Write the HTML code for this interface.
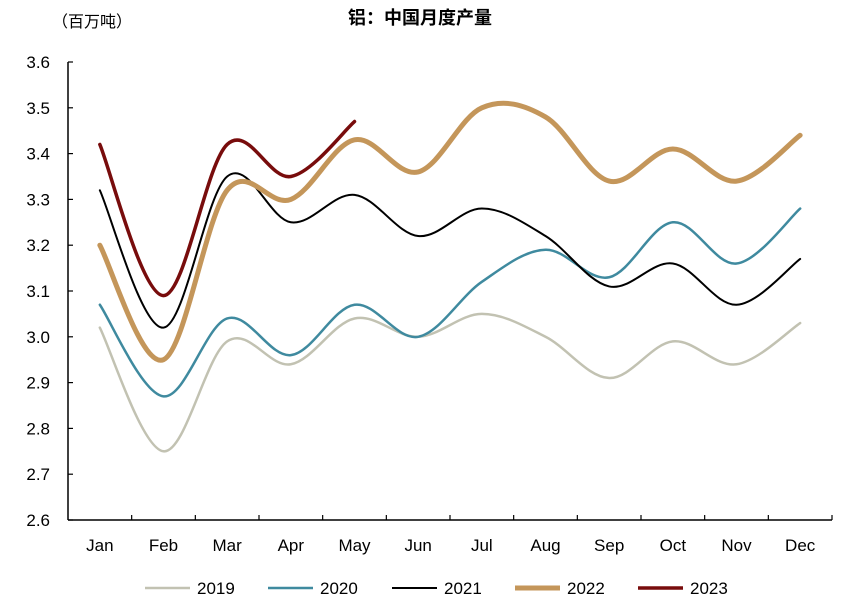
<!DOCTYPE html>
<html><head><meta charset="utf-8"><style>
body{margin:0;background:#fff;font-family:"Liberation Sans","Noto Sans CJK SC",sans-serif}
</style></head><body>
<svg id="chart" width="845" height="608" xmlns="http://www.w3.org/2000/svg" font-family="Liberation Sans, Noto Sans CJK SC, sans-serif">
<text x="420" y="24" text-anchor="middle" font-size="18" font-weight="bold">铝：中国月度产量</text>
<text x="52" y="27" font-size="16">（百万吨）</text>
<g id="axes"></g><g id="series"></g><g id="legend"></g>
</svg>
<script>
const months=["Jan","Feb","Mar","Apr","May","Jun","Jul","Aug","Sep","Oct","Nov","Dec"];
const yTicks=[2.6,2.7,2.8,2.9,3.0,3.1,3.2,3.3,3.4,3.5,3.6];
const years=["2019","2020","2021","2022","2023"];
const s2019=[3.02,2.75,2.99,2.94,3.04,3.00,3.05,3.00,2.91,2.99,2.94,3.03];
const s2020=[3.07,2.87,3.04,2.96,3.07,3.00,3.12,3.19,3.13,3.25,3.16,3.28];
const s2021=[3.32,3.02,3.35,3.25,3.31,3.22,3.28,3.22,3.11,3.16,3.07,3.17];
const s2022=[3.20,2.95,3.32,3.30,3.43,3.36,3.50,3.48,3.34,3.41,3.34,3.44];
const s2023=[3.42,3.09,3.42,3.35,3.47];
const NS="http://www.w3.org/2000/svg";
const X0=68,X1=832,Y0=520,Y1=62;
const bw=(X1-X0)/12;
const xs=i=>X0+bw*(i+0.5);
const ys=v=>Y0-(v-2.6)/(1.0)*(Y0-Y1);
function mk(tag,at,parent){const e=document.createElementNS(NS,tag);for(const k in at)e.setAttribute(k,at[k]);parent.appendChild(e);return e;}
const ax=document.getElementById('axes');
const yl=mk('line',{x1:X0,y1:Y1,x2:X0,y2:Y0,stroke:'#000','stroke-width':1.5},ax);


const xl=mk('line',{x1:X0,y1:Y0,x2:X1,y2:Y0,stroke:'#000','stroke-width':1.5},ax);


yTicks.forEach(v=>{
  const t=mk('line',{x1:X0,y1:ys(v),x2:X0+5,y2:ys(v),stroke:'#000','stroke-width':1.2},ax);
  
  
  const l=mk('text',{x:50,y:ys(v)+6,'text-anchor':'end','font-size':17},ax);
  l.textContent=v.toFixed(1);
  
  
});
for(let i=1;i<=12;i++){
  const t=mk('line',{x1:X0+bw*i,y1:Y0,x2:X0+bw*i,y2:Y0-5,stroke:'#000','stroke-width':1.2},ax);
  
  
}
months.forEach((m,i)=>{
  const l=mk('text',{x:xs(i),y:551,'text-anchor':'middle','font-size':17},ax);
  l.textContent=m;
  
  
});
function smooth(vals){
  const p=vals.map((v,i)=>[xs(i),ys(v)]);
  let d=`M${p[0][0]},${p[0][1]}`;
  for(let i=0;i<p.length-1;i++){
    const a=p[i-1]||p[i],b=p[i],c=p[i+1],e=p[i+2]||c;
    const t=0.17*2;
    const c1=[b[0]+(c[0]-a[0])*t/2,b[1]+(c[1]-a[1])*t/2];
    const c2=[c[0]-(e[0]-b[0])*t/2,c[1]-(e[1]-b[1])*t/2];
    d+=` C${c1[0]},${c1[1]} ${c2[0]},${c2[1]} ${c[0]},${c[1]}`;
  }
  return d;
}
const data=[s2019,s2020,s2021,s2022,s2023];
const colors=["#c2c2b2","#3f8a9f","#000000","#c4965a","#780c0c"];
const widths=[2.5,2.5,2,5,3.5];
const sg=document.getElementById('series');
data.forEach((s,k)=>{
  const p=mk('path',{d:smooth(s),fill:'none',stroke:colors[k],'stroke-width':widths[k],'stroke-linecap':'round'},sg);
  
  
});
const lg=document.getElementById('legend');
const lx=[145,268,392,515,638];
years.forEach((y,k)=>{
  const g=mk('g',{},lg);
  
  
  mk('line',{x1:lx[k],y1:588,x2:lx[k]+45,y2:588,stroke:colors[k],'stroke-width':widths[k]},g);
  const t=mk('text',{x:lx[k]+52,y:594,'font-size':17},g);
  t.textContent=y;
});
</script>
</body></html>
